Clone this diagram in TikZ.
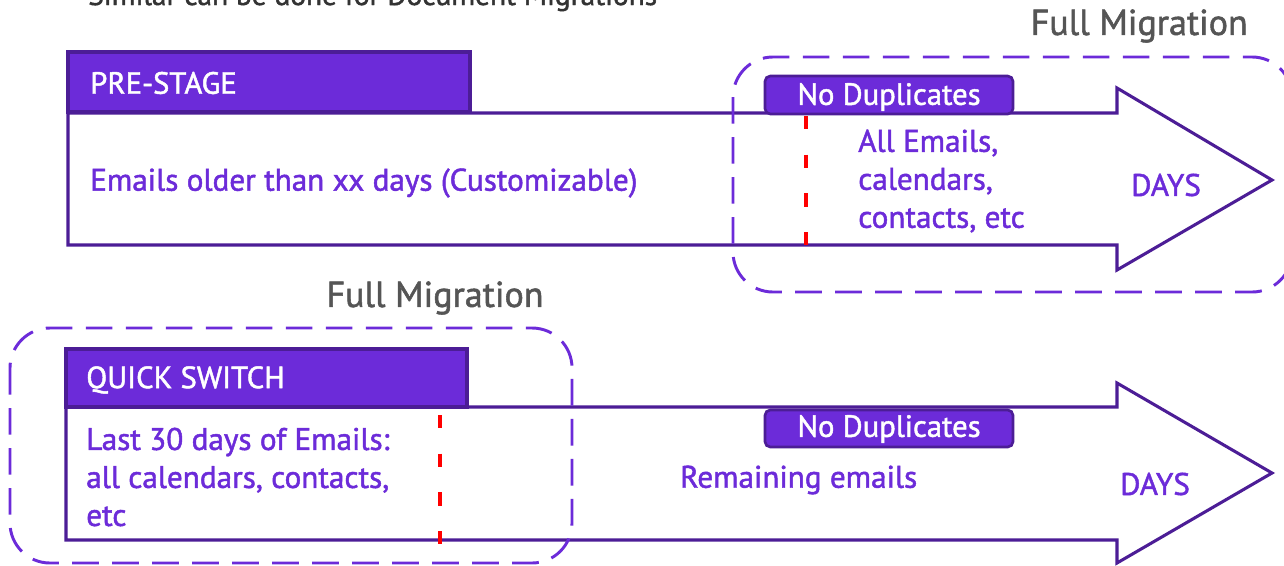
\documentclass[tikz,border=0pt]{standalone}
\usepackage{fontspec}
\setmainfont{PT Sans}
\newfontfamily\migfont{PT Sans}[FakeBold=1.5]
\usetikzlibrary{positioning}

\definecolor{migpurple}{RGB}{108,43,217}
\definecolor{migdark}{RGB}{76,29,150}
\definecolor{miggray}{RGB}{85,85,85}

\tikzset{
  arrowline/.style={draw=migdark,line width=2.3pt,fill=white,line join=miter},
  headbox/.style={draw=migdark,line width=2.3pt,fill=migpurple},
  dupbox/.style={draw=migdark,line width=2pt,fill=migpurple,rounded corners=4pt},
  migbox/.style={draw=migpurple,line width=2.2pt,dash pattern=on 20pt off 10pt,rounded corners=30pt},
  cutline/.style={draw=red,line width=2.6pt,dash pattern=on 10pt off 19pt},
  headtext/.style={text=white,font=\migfont\fontsize{23}{26}\selectfont,anchor=west,inner sep=0pt},
  bodytext/.style={text=migpurple,font=\migfont\fontsize{23.4}{28.5}\selectfont,anchor=west,align=left,inner sep=0pt},
  graytext/.style={text=miggray,font=\migfont\fontsize{27}{30}\selectfont,inner sep=0pt}
}

\begin{document}
\begin{tikzpicture}[x=0.75pt,y=0.75pt,yscale=-1,xscale=1]
\useasboundingbox (0,0) rectangle (1284,565);

% Text Node
\node[graytext,text=black!80,anchor=base west,font=\migfont\fontsize{22}{26}\selectfont] (similar) at (88,5) {Similar can be done for Document Migrations};

%Shape: Arrow [id:prestage]
\draw[arrowline] (68,113) -- (1117,113) -- (1117,88) -- (1272,180) -- (1117,270) -- (1117,245) -- (68,245) -- cycle;

%Shape: Rectangle [id:prestagehead]
\draw[headbox] (68,52) rectangle (470,112);
% Text Node
\node[headtext] (prestage) at (90,83) {PRE-STAGE};
% Text Node
\node[bodytext] (older) at (90,183) {Emails older than xx days (Customizable)};

%Shape: Rounded Rect [id:fulltop]
\draw[migbox] (733,57) rectangle (1292,292);
% Text Node
\node[graytext,anchor=east] (fulltopl) at (1248,26) {Full Migration};

%Straight Lines [id:cuttop]
\draw[cutline] (806,116) -- (806,250);

%Shape: Rounded Rect [id:duptop]
\draw[dupbox] (765,76) rectangle (1013,114);
% Text Node
\node[headtext,anchor=center] (duptopl) at (889,97) {No Duplicates};

% Text Node
\node[bodytext] (allmails) at (858,181) {All Emails,\\calendars,\\contacts, etc};
% Text Node
\node[bodytext,anchor=center] (daystop) at (1166,185) {DAYS};

%Shape: Arrow [id:quick]
\draw[arrowline] (66,407) -- (1117,407) -- (1117,383) -- (1272,473) -- (1117,563) -- (1117,540) -- (66,540) -- cycle;

%Shape: Rectangle [id:quickhead]
\draw[headbox] (66,349) rectangle (467,407);
% Text Node
\node[headtext] (quick) at (86,380) {QUICK SWITCH};
% Text Node
\node[bodytext] (last30) at (86,477) {Last 30 days of Emails:\\all calendars, contacts,\\etc};

%Shape: Rounded Rect [id:fullbottom]
\draw[migbox] (10,328) rectangle (572,563);
% Text Node
\node[graytext] (fullbottoml) at (435,298) {Full Migration};

%Straight Lines [id:cutbottom]
\draw[cutline] (440,415) -- (440,545);

%Shape: Rounded Rect [id:dupbottom]
\draw[dupbox] (765,410) rectangle (1013,447);
% Text Node
\node[headtext,anchor=center] (dupbottoml) at (889,429) {No Duplicates};

% Text Node
\node[bodytext] (remaining) at (680,480) {Remaining emails};
% Text Node
\node[bodytext,anchor=center] (daysbottom) at (1155,484) {DAYS};

\end{tikzpicture}
\end{document}
